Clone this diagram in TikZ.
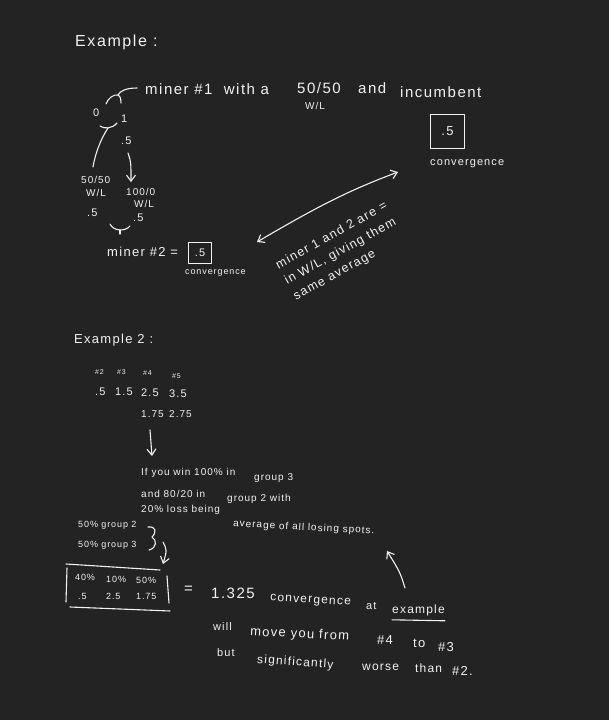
\documentclass[tikz,border=0pt]{standalone}
\usepackage{fontspec}
\setmainfont{Liberation Sans}[LetterSpace=10]
\usetikzlibrary{arrows.meta}
\definecolor{bg}{HTML}{232323}
\definecolor{ink}{HTML}{F2F2F2}
\begin{document}
\begin{tikzpicture}[x=1pt,y=-1pt,
  t/.style={text=ink,inner sep=0pt,anchor=west},
  fA/.style={t,font=\fontsize{16}{19}\selectfont},
  fB/.style={t,font=\fontsize{15}{17}\selectfont},
  fB2/.style={t,font=\fontsize{13}{15}\selectfont},
  fL/.style={t,font=\fontsize{12}{14}\selectfont},
  fC/.style={t,font=\fontsize{11}{13}\selectfont},
  fD/.style={t,font=\fontsize{10}{12}\selectfont},
  fS/.style={t,font=\fontsize{9}{11}\selectfont},
  fE/.style={t,font=\fontsize{7}{8}\selectfont},
  pen/.style={draw=ink,line width=1.1pt,line cap=round,line join=round},
  arr/.style={pen,-{Straight Barb[length=6pt,width=9pt]}},
  darr/.style={pen,{Straight Barb[length=6pt,width=9pt]}-{Straight Barb[length=6pt,width=9pt]}},
  valbox/.style={pen,minimum width=23pt,minimum height=21pt,inner sep=0pt,text=ink}]
\fill[bg] (0,0) rectangle (609,720);
\useasboundingbox (0,0) rectangle (609,720);

% ---------- Example 1 ----------
\node[fA] (ex1) at (75,42) {Example :};
\node[fB] (m1a) at (145,89) {miner \#1\ \ with a};
\node[fB] (m1b) at (297,88) {50/50};
\node[fB] (m1c) at (358,88) {and};
\node[fB] (m1d) at (400,92) {incumbent};
\node[fD] (wl0) at (305,106) {W/L};

% top brace
\coordinate (bt) at (137,88);
\draw[pen] (bt) .. controls (126,88) and (120,91) .. (118,95)
           .. controls (121,97) and (121,100) .. (121,103);
\draw[pen] (106,104) .. controls (108,98) and (114,94) .. (118,95);

\node[fC] (zero) at (93,113) {0};
\node[fC] (one) at (121,119) {1};
% lower brace under 0 and 1
\draw[pen] (100,126) .. controls (104,129) and (112,129) .. (117,123);
\draw[pen] (108,128) .. controls (100,140) and (95,155) .. (93,167);

\node[fC] (p5a) at (121,141) {.5};
\coordinate (a1s) at (128,153);
\coordinate (a1e) at (131,182);
\draw[arr] (a1s) .. controls (131,162) .. (a1e);

\node[fD] (f5050) at (81,180) {50/50};
\node[fD] (wl1) at (86,193) {W/L};
\node[fD] (f1000) at (126,192) {100/0};
\node[fD] (wl2) at (134,204) {W/L};
\node[fC] (p5b) at (87,213) {.5};
\node[fC] (p5c) at (133,218) {.5};
% brace under .5 .5
\draw[pen] (110,224) .. controls (113,231) and (125,232) .. (130,226);
\draw[pen] (120,230) -- (120,234);

\node[fB2] (m2) at (107,252) {miner \#2 =};
\node[valbox,anchor=west,font=\fontsize{11}{13}\selectfont] (b2) at (188,253) {.5};
\node[fS] (cv2) at (185,273) {convergence};

\node[valbox,anchor=north west,minimum width=34pt,minimum height=34pt,font=\fontsize{13}{15}\selectfont] (b1) at (430,114) {.5};
\node[fC] (cv1) at (430,164) {convergence};

\coordinate (dl) at (257,242);
\coordinate (dr) at (398,172);
\draw[darr] (dl) .. controls (320,205) and (350,190) .. (dr);

\node[t,anchor=north west,rotate=29,align=left,font=\fontsize{12.5}{18}\selectfont] (rot)
  at (274,261) {miner 1 and 2 are =\\in W/L, giving them\\same average};

% ---------- Example 2 ----------
\node[fB2] (ex2) at (74,340) {Example 2 :};
\node[fE] (h2) at (95,372) {\#2};
\node[fE] (h3) at (117,372) {\#3};
\node[fE] (h4) at (143,373) {\#4};
\node[fE] (h5) at (172,376) {\#5};
\node[fC] (v2) at (95,392) {.5};
\node[fC] (v3) at (115,392) {1.5};
\node[fC] (v4) at (141,393) {2.5};
\node[fC] (v5) at (169,394) {3.5};
\node[fD] (w4) at (141,414) {1.75};
\node[fD] (w5) at (169,414) {2.75};

\coordinate (a2s) at (150,430);
\coordinate (a2e) at (152,456);
\draw[arr] (a2s) -- (a2e);

\node[fD] (l1a) at (141,473) {If you win 100\%\ in};
\node[fD] (l1b) at (254,478) {group 3};
\node[fD] (l2a) at (141,494) {and 80/20 in};
\node[fD] (l2b) at (227,499) {group 2 with};
\node[fD] (l3a) at (141,510) {20\%\ loss being};
\node[fD,rotate=-3] (l3b) at (233,524) {average of all losing spots.};

\node[fS] (g2) at (78,525) {50\%\ group 2};
\node[fS] (g3) at (78,545) {50\%\ group 3};
\draw[pen] (148,527) .. controls (156,526) and (157,532) .. (152,537)
           .. controls (157,540) and (157,548) .. (149,550);
\coordinate (a3s) at (163,542);
\coordinate (a3e) at (163,564);
\draw[arr] (a3s) .. controls (167,550) .. (a3e);

\node[fS] (c1) at (75,577) {40\%};
\node[fS] (c2) at (106,579) {10\%};
\node[fS] (c3) at (136,580) {50\%};
\node[fS] (d1) at (78,596) {.5};
\node[fS] (d2) at (106,596) {2.5};
\node[fS] (d3) at (136,596) {1.75};
\draw[pen] (66,564) -- (160,570);
\draw[pen] (67,568) -- (66,602);
\draw[pen] (167,576) -- (169,603);
\draw[pen] (70,607) -- (170,611);

\node[fB] (eq) at (184,590) {=};
\node[fB] (r325) at (211,593) {1.325};
\node[fL,rotate=-3] (conv) at (270,599) {convergence};
\node[fC] (at) at (366,606) {at};
\node[fL] (exm) at (392,610) {example};
\draw[pen] ([yshift=-4pt]exm.south west) -- ([yshift=-5pt]exm.south east);
\coordinate (a4s) at (405,588);
\coordinate (a4e) at (387,551);
\draw[arr] (a4s) .. controls (400,572) .. (a4e);

\node[fC] (w1) at (213,627) {will};
\node[fB2,rotate=-3] (w2) at (250,632) {move you from};
\node[fB2] (w3) at (377,640) {\#4};
\node[fB2] (w4) at (413,643) {to};
\node[fB2] (w5) at (438,647) {\#3};
\node[fC] (x1) at (217,653) {but};
\node[fL,rotate=-4] (x2) at (257,660) {significantly};
\node[fL] (x3) at (362,667) {worse};
\node[fL] (x4) at (415,668) {than};
\node[fB2] (x5) at (452,671) {\#2.};
\end{tikzpicture}
\end{document}
